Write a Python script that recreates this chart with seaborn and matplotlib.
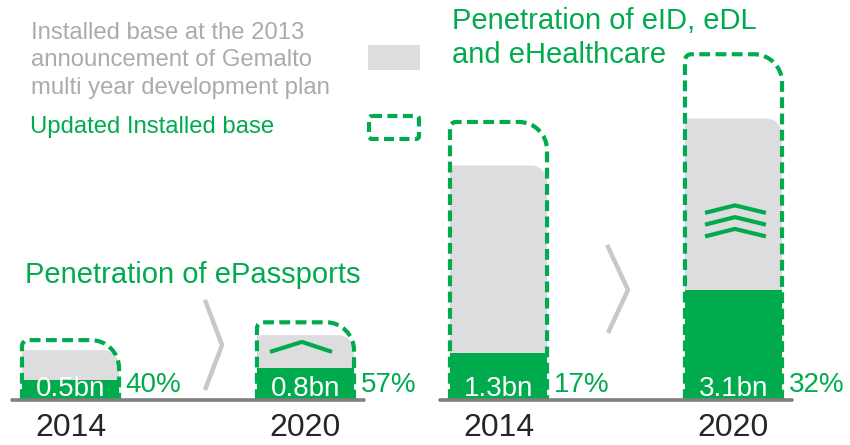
import numpy as np
import pandas as pd
import matplotlib
matplotlib.use("Agg")
import matplotlib.pyplot as plt
import seaborn as sns
from matplotlib.path import Path
from matplotlib.patches import PathPatch, Rectangle, FancyBboxPatch

# ---------------- data (bn) ----------------
years = ["2014", "2020"]

epass_installed = [0.56, 0.90]   # green: installed (penetration)
epass_plan2013 = [1.40, 1.82]    # grey: installed base at 2013 plan
epass_updated = [1.68, 2.18]     # dashed: updated installed base
epass_labels = ["0.5bn", "0.8bn"]
epass_pct = ["40%", "57%"]

eid_installed = [1.32, 3.10]
eid_plan2013 = [6.58, 7.90]
eid_updated = [7.80, 9.70]
eid_labels = ["1.3bn", "3.1bn"]
eid_pct = ["17%", "32%"]

GREEN = "#00AB4E"
GREY = "#DDDDDD"
TXTGREY = "#ABABAB"
AXGREY = "#7F7F7F"

sns.set_style("white")
plt.rcParams["font.family"] = ["Liberation Sans", "DejaVu Sans"]

fig = plt.figure(figsize=(8.5, 4.45), dpi=100)
FW, FH = 850.0, 445.0

W = 0.413
XL = (-0.249, 1.249)
YL = (0, 10.1)
PX_X = 235.0        # pixels per category unit
PX_Y = 360.0 / 10.1  # pixels per value unit
K = 0.5523


def rounded_bar_path(x0, x1, h, r_tr, r_tl, closed=True):
    rxr, ryr = r_tr / PX_X, r_tr / PX_Y
    rxl, ryl = r_tl / PX_X, r_tl / PX_Y
    verts = [(x0, 0), (x0, h - ryl),
             (x0, h - ryl + K * ryl), (x0 + rxl - K * rxl, h), (x0 + rxl, h),
             (x1 - rxr, h),
             (x1 - rxr + K * rxr, h), (x1, h - ryr + K * ryr), (x1, h - ryr),
             (x1, 0)]
    codes = [Path.MOVETO, Path.LINETO,
             Path.CURVE4, Path.CURVE4, Path.CURVE4,
             Path.LINETO,
             Path.CURVE4, Path.CURVE4, Path.CURVE4,
             Path.LINETO]
    if closed:
        verts.append((x0, 0))
        codes.append(Path.CLOSEPOLY)
    return Path(verts, codes)


def draw_panel(ax, installed, plan, updated, labels, pct):
    df = pd.DataFrame({"year": years, "installed": installed,
                       "plan": plan, "updated": updated})
    # grey: 2013 plan
    n0 = len(ax.patches)
    sns.barplot(data=df, x="year", y="plan", color=GREY, saturation=1,
                width=W, errorbar=None, linewidth=0, ax=ax)
    for p in list(ax.patches[n0:]):
        x0, w, h = p.get_x(), p.get_width(), p.get_height()
        p.remove()
        ax.add_patch(PathPatch(rounded_bar_path(x0, x0 + w, h, 16, 0),
                               facecolor=GREY, edgecolor="none", zorder=2))
    # green: installed
    n1 = len(ax.patches)
    sns.barplot(data=df, x="year", y="installed", color=GREEN, saturation=1,
                width=W, errorbar=None, linewidth=0, ax=ax)
    for p in ax.patches[n1:]:
        p.set_zorder(3)
    # dashed: updated installed base
    n2 = len(ax.patches)
    sns.barplot(data=df, x="year", y="updated", color=GREEN, saturation=1,
                width=W, errorbar=None, linewidth=0, ax=ax)
    for p in list(ax.patches[n2:]):
        x0, w, h = p.get_x(), p.get_width(), p.get_height()
        p.remove()
        ax.add_patch(PathPatch(rounded_bar_path(x0, x0 + w, h, 28, 6, closed=False),
                               facecolor="none", edgecolor=GREEN, lw=3.0,
                               linestyle=(0, (2.6, 1.3)), zorder=4,
                               capstyle="butt"))
    # labels
    for i in range(len(years)):
        ax.text(i, 0.12, labels[i], ha="center", va="baseline", color="white",
                fontsize=20, zorder=5)
        ax.text(i + W / 2 + 0.028, 0.22, pct[i], ha="left", va="baseline",
                color=GREEN, fontsize=20, zorder=5, clip_on=False)
    ax.axhline(0, color=AXGREY, lw=2.6, zorder=6, clip_on=False)
    ax.set_xlim(*XL)
    ax.set_ylim(*YL)
    ax.set_xticks(range(len(years)))
    ax.set_xticklabels(years, fontsize=23, color="#262626")
    ax.tick_params(axis="x", length=0, pad=9)
    ax.set_yticks([])
    ax.set_xlabel("")
    ax.set_ylabel("")
    for s in ax.spines.values():
        s.set_visible(False)
    ax.patch.set_alpha(0)


axw = 352 / FW
axb = 45 / FH
axh = 360 / FH
ax1 = fig.add_axes([12 / FW, axb, axw, axh])
ax2 = fig.add_axes([440 / FW, axb, axw, axh])
draw_panel(ax1, epass_installed, epass_plan2013, epass_updated, epass_labels, epass_pct)
draw_panel(ax2, eid_installed, eid_plan2013, eid_updated, eid_labels, eid_pct)

# transition chevrons between the years
ax1.plot([0.572, 0.645, 0.572], [2.81, 1.54, 0.28], color="#C8C8C8", lw=3.2,
         solid_capstyle="butt", zorder=2)
ax2.plot([0.462, 0.551, 0.466], [4.35, 3.09, 1.88], color="#C8C8C8", lw=3.2,
         solid_capstyle="butt", zorder=2)
# growth arrows inside the 2020 bars
ax1.plot([0.849, 0.985, 1.113], [1.35, 1.63, 1.35], color=GREEN, lw=3,
         solid_capstyle="butt", zorder=5)
for k in range(3):
    dy = -0.33 * k
    ax2.plot([0.879, 1.006, 1.138], [5.25 + dy, 5.46 + dy, 5.25 + dy],
             color=GREEN, lw=3, solid_capstyle="butt", zorder=5)

# overlay for titles and legend (pixel coordinates)
ov = fig.add_axes([0, 0, 1, 1], zorder=10)
ov.set_xlim(0, FW)
ov.set_ylim(FH, 0)
ov.axis("off")
ov.patch.set_alpha(0)

for j, line in enumerate(["Installed base at the 2013",
                          "announcement of Gemalto",
                          "multi year development plan"]):
    ov.text(31, 39 + 27.5 * j, line, color=TXTGREY, fontsize=17.2, va="baseline")
ov.text(30, 133, "Updated Installed base", color=GREEN, fontsize=17.2, va="baseline")
ov.add_patch(Rectangle((368, 45), 52, 25, facecolor=GREY, edgecolor="none"))
ov.add_patch(FancyBboxPatch((369, 116), 50, 23, boxstyle="round,pad=0,rounding_size=3",
                            facecolor="none", edgecolor=GREEN, lw=3,
                            linestyle=(0, (2.4, 1.3))))

ov.text(25, 283, "Penetration of ePassports", color=GREEN, fontsize=21, va="baseline")
ov.text(452, 29, "Penetration of eID, eDL", color=GREEN, fontsize=21, va="baseline")
ov.text(452, 63, "and eHealthcare", color=GREEN, fontsize=21, va="baseline")

fig.savefig("out.png", dpi=100)
